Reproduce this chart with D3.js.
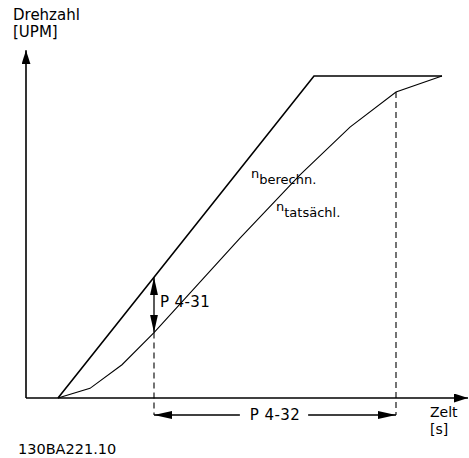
<!DOCTYPE html>
<html>
<head>
<meta charset="utf-8">
<script src="https://cdn.jsdelivr.net/npm/d3@7"></script>
<style>
  html, body { margin: 0; padding: 0; background: #fff; }
  svg { display: block; }
  text { font-family: "DejaVu Sans", Verdana, sans-serif; fill: #000; }
</style>
</head>
<body>
<svg id="chart" width="469" height="458"></svg>
<script>
// Time axis (s) and speed axis (UPM)
const timeDomain = [0, 11];
const speedDomain = [0, 1500];
const speedAxisTop = 1620;

// Calculated ramp: linear acceleration then constant speed
const calcTime  = [0.8, 7.2, 10.4];
const calcSpeed = [0, 1500, 1500];

// Actual speed following the ramp with a lag
const actTime  = [0.8, 1.6, 2.4, 3.2, 5.35, 6.85, 8.1, 9.25, 10.4];
const actSpeed = [0, 45, 155, 305, 745, 1039, 1262, 1425, 1500];

// Parameter markers
const lagTime = 3.2;          // P 4-31 speed error measured here
const rampEndTime = 9.25;     // end of P 4-32 interval

const labels = {
  yTitle: ["Drehzahl", "[UPM]"],
  xTitle: ["Zelt", "[s]"],
  p431: "P 4-31",
  p432: "P 4-32",
  nCalc: ["n", "berechn."],
  nAct: ["n", "tatsächl."],
  code: "130BA221.10"
};

const svg = d3.select("#chart");
const x = d3.scaleLinear().domain(timeDomain).range([26, 466]);
const y = d3.scaleLinear().domain(speedDomain).range([398, 76]);

// Arrowhead markers
const defs = svg.append("defs");
function arrow(id, len, half) {
  defs.append("marker")
    .attr("id", id)
    .attr("viewBox", `0 ${-half} ${len} ${2 * half}`)
    .attr("refX", len).attr("refY", 0)
    .attr("markerUnits", "userSpaceOnUse")
    .attr("markerWidth", len).attr("markerHeight", 2 * half)
    .attr("orient", "auto-start-reverse")
    .append("path")
    .attr("d", `M0,${-half}L${len},0L0,${half}Z`)
    .attr("fill", "#000");
}
arrow("axisHead", 14, 4.5);
arrow("dimHead", 18, 4);

// Axes
svg.append("line")
  .attr("x1", x(0)).attr("y1", y(0))
  .attr("x2", x(0)).attr("y2", y(speedAxisTop))
  .attr("stroke", "#000").attr("stroke-width", 1.6)
  .attr("marker-end", "url(#axisHead)");
svg.append("line")
  .attr("x1", x(0)).attr("y1", y(0))
  .attr("x2", x(timeDomain[1]) + 2).attr("y2", y(0))
  .attr("stroke", "#000").attr("stroke-width", 1.6)
  .attr("marker-end", "url(#axisHead)");

// Curves
const line = d3.line().x(d => x(d[0])).y(d => y(d[1]));
svg.append("path")
  .datum(d3.zip(calcTime, calcSpeed))
  .attr("d", line)
  .attr("fill", "none").attr("stroke", "#000").attr("stroke-width", 1.6)
  .attr("stroke-linejoin", "miter");
svg.append("path")
  .datum(d3.zip(actTime, actSpeed))
  .attr("d", line)
  .attr("fill", "none").attr("stroke", "#000").attr("stroke-width", 1.1);

// Interpolated values at the marker times
const calcAt = d3.scaleLinear().domain(calcTime).range(calcSpeed);
const actAt = d3.scaleLinear().domain(actTime).range(actSpeed);
const dimY = 415;

// Dashed guides down to the P 4-32 dimension line
[lagTime, rampEndTime].forEach(t => {
  svg.append("line")
    .attr("x1", x(t)).attr("x2", x(t))
    .attr("y1", y(actAt(t))).attr("y2", dimY)
    .attr("stroke", "#000").attr("stroke-width", 1.1)
    .attr("stroke-dasharray", "6,4");
});

// P 4-31: vertical dimension between calculated and actual speed
svg.append("line")
  .attr("x1", x(lagTime)).attr("x2", x(lagTime))
  .attr("y1", y(actAt(lagTime))).attr("y2", y(calcAt(lagTime)))
  .attr("stroke", "#000").attr("stroke-width", 1.3)
  .attr("marker-start", "url(#dimHead)")
  .attr("marker-end", "url(#dimHead)");
svg.append("text")
  .attr("x", x(lagTime) + 6).attr("y", 307)
  .attr("font-size", 15).attr("letter-spacing", 0.4)
  .text(labels.p431);

// P 4-32: horizontal dimension with text gap
const p432 = svg.append("text")
  .attr("x", (x(lagTime) + x(rampEndTime)) / 2).attr("y", 420)
  .attr("text-anchor", "middle")
  .attr("font-size", 15).attr("letter-spacing", 0.4)
  .text(labels.p432);
const bb = p432.node().getBBox();
svg.append("line")
  .attr("x1", x(lagTime)).attr("x2", bb.x - 10)
  .attr("y1", dimY).attr("y2", dimY)
  .attr("stroke", "#000").attr("stroke-width", 1.3)
  .attr("marker-start", "url(#dimHead)");
svg.append("line")
  .attr("x1", bb.x + bb.width + 8).attr("x2", x(rampEndTime))
  .attr("y1", dimY).attr("y2", dimY)
  .attr("stroke", "#000").attr("stroke-width", 1.3)
  .attr("marker-end", "url(#dimHead)");

// Axis titles
const yt = svg.append("text").attr("x", 13).attr("font-size", 15);
yt.append("tspan").attr("x", 13).attr("y", 20).text(labels.yTitle[0]);
yt.append("tspan").attr("x", 13).attr("y", 37).text(labels.yTitle[1]);
const xt = svg.append("text").attr("font-size", 14);
xt.append("tspan").attr("x", 430).attr("y", 417).text(labels.xTitle[0]);
xt.append("tspan").attr("x", 430).attr("y", 434).text(labels.xTitle[1]);

// Series labels with subscripts
function subLabel(lbl, px, py) {
  const t = svg.append("text").attr("x", px).attr("y", py).attr("font-size", 13);
  t.append("tspan").text(lbl[0]);
  t.append("tspan").attr("dy", 6).text(lbl[1]);
}
subLabel(labels.nCalc, 251, 178);
subLabel(labels.nAct, 276, 211);

// Drawing code
svg.append("text")
  .attr("x", 18).attr("y", 454)
  .attr("font-family", "'Liberation Sans', Arial, sans-serif")
  .attr("font-size", 14.5).attr("fill", "#111")
  .text(labels.code);
</script>
</body>
</html>
